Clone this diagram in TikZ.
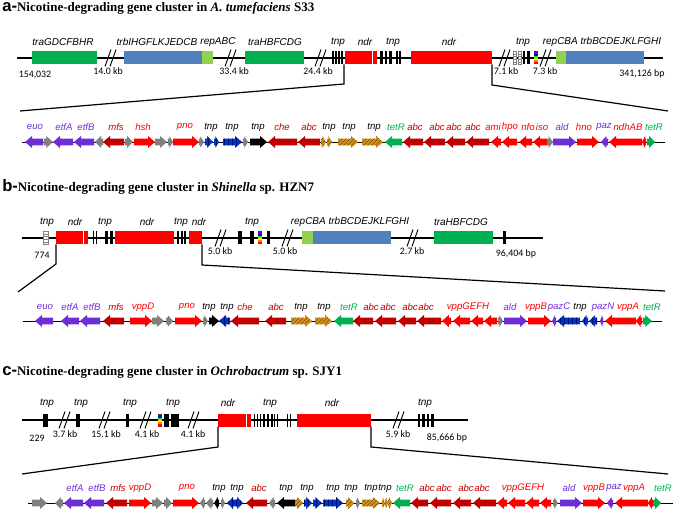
\documentclass[tikz,border=0pt]{standalone}
\usepackage{fontspec}
\setmainfont{Liberation Serif}
\setsansfont{Liberation Sans}
\newfontfamily\numfont{Carlito}
\usetikzlibrary{patterns}

\definecolor{cpur}{RGB}{111,45,214}
\definecolor{cdred}{RGB}{192,0,0}
\definecolor{cred}{RGB}{255,0,0}
\definecolor{cgry}{RGB}{128,128,128}
\definecolor{cblu}{RGB}{0,51,204}
\definecolor{cblud}{RGB}{0,20,110}
\definecolor{corg}{RGB}{214,145,20}
\definecolor{corgd}{RGB}{130,80,0}
\definecolor{ctet}{RGB}{0,176,80}
\definecolor{cgrn}{RGB}{0,176,80}
\definecolor{ctrb}{RGB}{79,129,189}
\definecolor{crep}{RGB}{146,208,80}

\tikzset{
  gpur/.style={fill=cpur},
  gdred/.style={fill=cdred},
  gred/.style={fill=cred},
  ggry/.style={fill=cgry},
  gblk/.style={fill=black},
  gtet/.style={fill=ctet},
  gblu/.style={fill=cblu, postaction={pattern=vertical lines, pattern color=cblud}},
  gorg/.style={fill=corg, postaction={pattern=north east lines, pattern color=corgd}},
  lab/.style={font=\sffamily\itshape\fontsize{7.2}{8}\selectfont, inner sep=0pt},
  mlab/.style={font=\sffamily\itshape\fontsize{7.5}{9}\selectfont, inner sep=0pt},
  num/.style={font=\numfont\fontsize{7.4}{9}\selectfont, inner sep=0pt},
  ttl/.style={anchor=base west, inner sep=0pt, font=\bfseries\fontsize{9.75}{11}\selectfont},
  mainline/.style={line width=0.8pt},
  geneline/.style={line width=0.6pt},
  cut/.style={line width=0.9pt},
  brkline/.style={line width=0.7pt},
}
\newcommand{\panel}[1]{\smash{\sffamily\fontsize{12.5}{12}\selectfont #1-}}

% gene arrow: x1, x2, direction (1 right, -1 left), y, style
\newcommand{\genearrow}[5]{%
  \pgfmathsetmacro\hl{min(7,0.75*(#2-#1))}%
  \ifnum#3>0
    \path[#5] (#1,{#4-3.3}) -- ({#2-\hl},{#4-3.3}) -- ({#2-\hl},{#4-6}) -- (#2,#4)
      -- ({#2-\hl},{#4+6}) -- ({#2-\hl},{#4+3.3}) -- (#1,{#4+3.3}) -- cycle;
  \else
    \path[#5] (#2,{#4-3.3}) -- ({#1+\hl},{#4-3.3}) -- ({#1+\hl},{#4-6}) -- (#1,#4)
      -- ({#1+\hl},{#4+6}) -- ({#1+\hl},{#4+3.3}) -- (#2,{#4+3.3}) -- cycle;
  \fi}
% main row pieces
\newcommand{\cbox}[4]{\fill[#4] (#1,{#3-6.5}) rectangle (#2,{#3+6.5});}
\newcommand{\tbar}[3]{\fill[black] (#1,{#3-6.5}) rectangle ({#1+#2},{#3+6.5});}
\newcommand{\brk}[2]{\draw[brkline] ({#1-5},{#2+8.5}) -- ({#1+1},{#2-8.5})
  ({#1},{#2+8.5}) -- ({#1+6},{#2-8.5});}
\newcommand{\rbow}[2]{%
  \foreach \rc [count=\k from 0] in {violet,blue,green,yellow,orange,red}
    {\fill[\rc] (#1,{#2-6.5+\k*13/6}) rectangle ({#1+3.5},{#2-6.5+(\k+1)*13/6});}}
\newcommand{\wbox}[3]{%
  \draw[cgry, fill=white, line width=0.4pt] (#1,{#3-6.5}) rectangle ({#1+#2},{#3+6.5});
  \foreach \k in {1,...,4}
    {\draw[cgry, line width=0.3pt] (#1,{#3-6.5+\k*2.6}) -- ({#1+#2},{#3-6.5+\k*2.6});}}

\begin{document}
\begin{tikzpicture}[x=0.75pt, y=-0.75pt]
\useasboundingbox (0,0) rectangle (675,513);

%% ---------------- a ----------------
\node[ttl] (ta) at (2,12) {\panel{a}Nicotine-degrading gene cluster in \textit{A. tumefaciens} S33};

\draw[mainline] (17,58) -- (663,58);
\cbox{32}{97}{58}{cgrn}
\cbox{124}{202}{58}{ctrb}
\cbox{202}{213}{58}{crep}
\cbox{245}{304}{58}{cgrn}
\foreach \x in {332,335,338,341} {\tbar{\x}{1.8}{58}}
\cbox{345}{377}{58}{cred}
\draw[white, line width=0.6pt] (372,51.5) -- (372,64.5);
\foreach \x/\w in {380/3,385/2,389/3,396/2,399/2} {\tbar{\x}{\w}{58}}
\cbox{411}{492}{58}{cred}
\wbox{513}{3}{58} \wbox{518}{3}{58}
\tbar{523}{2}{58} \tbar{527}{3}{58}
\rbow{534}{58}
\cbox{556}{566}{58}{crep}
\cbox{566}{644}{58}{ctrb}
\foreach \x in {110,230,320,504,545} {\brk{\x}{58}}

\foreach \x/\t [count=\i] in {63/traGDCFBHR, 157/trbIHGFLKJEDCB, 218/repABC,
    275/traHBFCDG, 338/tnp, 365/ndr, 393/tnp, 449/ndr, 523/tnp,
    602/repCBA trbBCDEJKLFGHI}
  \node[mlab] (ma\i) at (\x,42) {\t};
\foreach \x/\y/\t [count=\i] in {35/75/{154,032}, 108/71/14.0 kb, 234/71/33.4 kb,
    318/71/24.4 kb, 506/71/7.1 kb, 545/71/7.3 kb, 642/74/{341,126 bp}}
  \node[num] (na\i) at (\x,\y) {\t};

\coordinate (aL) at (344,64.5);
\coordinate (aLk) at (344,84);
\coordinate (aLd) at (20,111);
\coordinate (aR) at (492,64.5);
\coordinate (aRk) at (492,85);
\coordinate (aRd) at (668,111);
\draw[cut] (aL) -- (aLk) -- (aLd);
\draw[cut] (aR) -- (aRk) -- (aRd);

\draw[geneline] (22,142) -- (665,142);
\foreach \xa/\xb/\dd/\cc in {25/43/-1/gpur, 44/53/1/ggry, 53/73/-1/gpur, 74/94/-1/gpur,
    95/103/-1/ggry, 103/124/-1/gdred, 125/133/1/ggry, 134/155/1/gred, 155/167/1/ggry,
    168/173/1/ggry, 173/199/1/gred, 199/204/1/ggry, 205/213/1/gblu, 214/219/1/gblu,
    223/242/1/gblu, 243/248/1/ggry, 250/267/1/gblk, 268/297/-1/gdred, 298/320/-1/gdred,
    321/326/1/gorg, 327/332/1/gorg, 338/358/1/gorg, 362/383/1/gorg, 385/402/-1/gtet,
    403/423/-1/gdred, 424/445/-1/gdred, 446/465/-1/gdred, 466/489/-1/gdred,
    491/501/-1/gred, 502/517/-1/gred, 519/532/-1/gred, 533/547/-1/gred, 547/553/1/ggry,
    553/576/1/gpur, 577/599/1/gred, 601/608/-1/gpur, 609/642/-1/gred, 642/646/-1/gred,
    647/655/1/gtet}
  {\genearrow{\xa}{\xb}{\dd}{142}{\cc}}
\foreach \x/\t/\c [count=\i] in {35/euo/cpur, 64/etfA/cpur, 86/etfB/cpur, 116/mfs/cdred,
    143/hsh/cred, 185/pno/cred, 211/tnp/black, 232/tnp/black, 258/tnp/black,
    282/che/cdred, 309/abc/cdred, 329/tnp/black, 349/tnp/black, 374/tnp/black,
    396/tetR/ctet, 415/abc/cdred, 437/abc/cdred, 454/abc/cdred, 473/abc/cdred,
    493/ami/cred, 510/hpo/cred, 528/nfo/cred, 542/iso/cred, 562/ald/cpur,
    584/hno/cred, 604/paz/cpur, 628/ndhAB/cred, 654/tetR/ctet}
  \node[lab, text=\c] (la\i) at (\x,127) {\t};

%% ---------------- b ----------------
\node[ttl] (tb) at (2,192) {\panel{b}Nicotine-degrading gene cluster in \textit{Shinella} sp. HZN7};

\draw[mainline] (22,238) -- (543,238);
\wbox{43}{5}{238}
\cbox{56}{88}{238}{cred}
\draw[white, line width=0.6pt] (83,231.5) -- (83,244.5);
\foreach \x/\w in {93/1.2,96/1.2,105/2.5,110/2.5} {\tbar{\x}{\w}{238}}
\cbox{115}{174}{238}{cred}
\foreach \x in {177,180.5,184} {\tbar{\x}{2}{238}}
\cbox{189}{202}{238}{cred}
\tbar{238}{4}{238} \tbar{250}{4}{238}
\rbow{258}{238}
\tbar{267}{3}{238}
\cbox{302}{313}{238}{crep}
\cbox{313}{391}{238}{ctrb}
\cbox{434}{493}{238}{cgrn}
\tbar{503}{3}{238}
\foreach \x in {220,287,412} {\brk{\x}{238}}

\foreach \x/\t [count=\i] in {47/tnp, 75/ndr, 105/tnp, 147/ndr, 181/tnp, 199/ndr,
    252/tnp, 350/repCBA trbBCDEJKLFGHI, 461/traHBFCDG}
  \node[mlab] (mb\i) at (\x,222) {\t};
\foreach \x/\y/\t [count=\i] in {42/255/774, 220/251/5.0 kb, 285/251/5.0 kb,
    412/251/2.7 kb, 516/254/{96,404 bp}}
  \node[num] (nb\i) at (\x,\y) {\t};

\coordinate (bL) at (56,244.5);
\coordinate (bLk) at (56,264);
\coordinate (bLd) at (18,292);
\coordinate (bR) at (202,244.5);
\coordinate (bRk) at (202,265);
\coordinate (bRd) at (665,291);
\draw[cut] (bL) -- (bLk) -- (bLd);
\draw[cut] (bR) -- (bRk) -- (bRd);

\draw[geneline] (23,321) -- (662,321);
\foreach \xa/\xb/\dd/\cc in {35/53/-1/gpur, 61/79/-1/gpur, 80/100/-1/gpur,
    103/124/-1/gdred, 130/152/1/gred, 152/164/1/ggry, 166/173/1/ggry, 175/202/1/gred,
    203/208/1/ggry, 209/219/1/gblk, 219/230/-1/gblu, 231/259/-1/gdred,
    265/286/-1/gdred, 291/312/1/gorg, 315/332/1/gorg, 334/353/-1/gtet,
    353/373/-1/gdred, 375/396/-1/gdred, 398/416/-1/gdred, 417/441/-1/gdred,
    442/451/-1/gred, 453/470/-1/gred, 471/483/-1/gred, 484/497/-1/gred,
    498/503/1/ggry, 504/527/1/gpur, 528/551/1/gred, 552/556/-1/gpur,
    557/580/-1/gblu, 582/588/-1/gblu, 589/597/-1/gblu, 600/603/-1/gpur,
    605/636/-1/gred, 636/642/-1/gred, 643/652/1/gtet}
  {\genearrow{\xa}{\xb}{\dd}{321}{\cc}}
\foreach \x/\t/\c [count=\i] in {45/euo/cpur, 70/etfA/cpur, 92/etfB/cpur, 116/mfs/cdred,
    143/vppD/cred, 187/pno/cred, 209/tnp/black, 227/tnp/black, 245/che/cdred,
    276/abc/cdred, 301/tnp/black, 324/tnp/black, 349/tetR/ctet, 371/abc/cdred,
    388/abc/cdred, 410/abc/cdred, 426/abc/cdred, 468/vppGEFH/cred, 510/ald/cpur,
    536/vppB/cred, 559/pazC/cpur, 580/tnp/black, 603/pazN/cpur, 628/vppA/cred,
    652/tetR/ctet}
  \node[lab, text=\c] (lb\i) at (\x,307) {\t};

%% ---------------- c ----------------
\node[ttl] (tc) at (2,376) {\panel{c}Nicotine-degrading gene cluster in \textit{Ochrobactrum} sp. SJY1};

\draw[mainline] (22,420) -- (468,420);
\tbar{43}{5}{420}
\tbar{76}{4}{420}
\tbar{126}{3}{420}
\rbow{158}{420}
\tbar{164}{5}{420} \tbar{171}{8}{420}
\cbox{218}{251}{420}{cred}
\draw[white, line width=0.6pt] (246,413.5) -- (246,426.5);
\foreach \x/\w in {254/0.8,257/0.8,260/0.8,263/2,267/2,270.5/2,274/1,277/1,287/0.8,290/0.8}
  {\tbar{\x}{\w}{420}}
\cbox{297}{371}{420}{cred}
\foreach \x in {417.5,422,426.5,431} {\tbar{\x}{2.5}{420}}
\foreach \x in {64,104,145,193,398} {\brk{\x}{420}}

\foreach \x/\t [count=\i] in {47/tnp, 81/tnp, 130/tnp, 173/tnp, 228/ndr, 270/tnp,
    332/ndr, 425/tnp}
  \node[mlab] (mc\i) at (\x,403) {\t};
\foreach \x/\y/\t [count=\i] in {37/438/229, 65/434/3.7 kb, 106/434/15.1 kb,
    147/434/4.1 kb, 193/434/4.1 kb, 398/434/5.9 kb, 447/438/{85,666 bp}}
  \node[num] (nc\i) at (\x,\y) {\t};

\coordinate (cL) at (218,426.5);
\coordinate (cLk) at (218,447);
\coordinate (cLd) at (22,474);
\coordinate (cR) at (371,426.5);
\coordinate (cRk) at (371,447);
\coordinate (cRd) at (668,474);
\draw[cut] (cL) -- (cLk) -- (cLd);
\draw[cut] (cR) -- (cRk) -- (cRd);

\draw[geneline] (28,503) -- (673,503);
\foreach \xa/\xb/\dd/\cc in {32/47/1/ggry, 55/63/-1/ggry, 64/83/-1/gpur, 84/104/-1/gpur,
    106/127/-1/gdred, 129/151/1/gred, 152/163/1/ggry, 164/172/1/ggry, 173/199/1/gred,
    200/205/-1/ggry, 206/213/-1/ggry, 214/219/-1/gblk, 221/225/1/ggry,
    227/235/-1/gblu, 235/243/1/gblu, 246/267/-1/gdred, 269/275/-1/ggry,
    277/295/-1/gblk, 295/303/1/gorg, 304/312/1/gblu, 313/322/1/gblu, 323/343/1/gblu,
    346/354/1/gorg, 356/360/1/ggry, 362/380/1/gorg, 382/385/1/gorg, 385/388/1/gorg,
    388/392/1/gorg, 393/410/-1/gtet, 411/428/-1/gdred, 430/451/-1/gdred,
    453/471/-1/gdred, 473/496/-1/gdred, 497/507/-1/gred, 508/525/-1/gred,
    526/539/-1/gred, 540/551/-1/gred, 553/558/1/ggry, 560/582/1/gpur,
    583/605/1/gred, 607/613/-1/gpur, 615/648/-1/gred, 648/653/-1/gred, 653/661/1/gtet}
  {\genearrow{\xa}{\xb}{\dd}{503}{\cc}}
\foreach \x/\t/\c [count=\i] in {75/etfA/cpur, 97/etfB/cpur, 118/mfs/cdred,
    140/vppD/cred, 187/pno/cred, 219/tnp/black, 237/tnp/black, 259/abc/cdred,
    286/tnp/black, 307/tnp/black, 333/tnp/black, 351/tnp/black, 371/tnp/black,
    385/tnp/black, 405/tetR/ctet, 427/abc/cdred, 444/abc/cdred, 466/abc/cdred,
    482/abc/cdred, 523/vppGEFH/cred, 569/ald/cpur, 594/vppB/cred, 614/paz/cpur,
    634/vppA/cred, 663/tetR/ctet}
  \node[lab, text=\c] (lc\i) at (\x,488) {\t};
\end{tikzpicture}
\end{document}
